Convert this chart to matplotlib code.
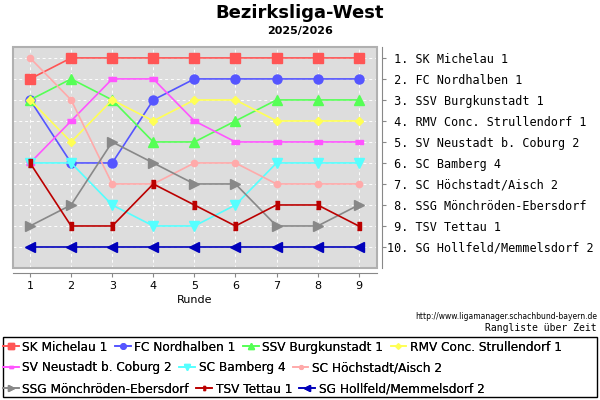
import matplotlib
matplotlib.use("Agg")
import matplotlib.pyplot as plt
from matplotlib.patches import Rectangle
import numpy as np

rounds = [1, 2, 3, 4, 5, 6, 7, 8, 9]

teams = [
    "SK Michelau 1",
    "FC Nordhalben 1",
    "SSV Burgkunstadt 1",
    "RMV Conc. Strullendorf 1",
    "SV Neustadt b. Coburg 2",
    "SC Bamberg 4",
    "SC Höchstadt/Aisch 2",
    "SSG Mönchröden-Ebersdorf",
    "TSV Tettau 1",
    "SG Hollfeld/Memmelsdorf 2",
]

# rank after each round
ranks = {
    "SK Michelau 1":             [2, 1, 1, 1, 1, 1, 1, 1, 1],
    "FC Nordhalben 1":           [3, 6, 6, 3, 2, 2, 2, 2, 2],
    "SSV Burgkunstadt 1":        [3, 2, 3, 5, 5, 4, 3, 3, 3],
    "RMV Conc. Strullendorf 1":  [3, 5, 3, 4, 3, 3, 4, 4, 4],
    "SV Neustadt b. Coburg 2":   [6, 4, 2, 2, 4, 5, 5, 5, 5],
    "SC Bamberg 4":              [6, 6, 8, 9, 9, 8, 6, 6, 6],
    "SC Höchstadt/Aisch 2":      [1, 3, 7, 7, 6, 6, 7, 7, 7],
    "SSG Mönchröden-Ebersdorf":  [9, 8, 5, 6, 7, 7, 9, 9, 8],
    "TSV Tettau 1":              [6, 9, 9, 7, 8, 9, 8, 8, 9],
    "SG Hollfeld/Memmelsdorf 2": [10, 10, 10, 10, 10, 10, 10, 10, 10],
}

# final table for the right hand labels
final_table = teams

hrect = [(-1, -0.55), (1, -0.55), (1, 0.55), (-1, 0.55)]
vrect = [(-0.55, -1), (0.55, -1), (0.55, 1), (-0.55, 1)]

STYLE = {
    "SK Michelau 1":             ("#ff5555", "s", 6.5),
    "FC Nordhalben 1":           ("#5555ff", "o", 6.5),
    "SSV Burgkunstadt 1":        ("#55ff55", "^", 6.5),
    "RMV Conc. Strullendorf 1":  ("#ffff55", "D", 4.5),
    "SV Neustadt b. Coburg 2":   ("#ff55ff", hrect, 6),
    "SC Bamberg 4":              ("#55ffff", "v", 6.5),
    "SC Höchstadt/Aisch 2":      ("#ffaaaa", "o", 4.5),
    "SSG Mönchröden-Ebersdorf":  ("#888888", ">", 6.5),
    "TSV Tettau 1":              ("#bb0000", vrect, 6),
    "SG Hollfeld/Memmelsdorf 2": ("#0000bb", "<", 6.5),
}

fig = plt.figure(figsize=(6, 4), dpi=100)
ax = fig.add_axes([0.022, 0.33, 0.606, 0.5525])
ax.set_facecolor("#dddddd")

handles = []
for team in teams:
    color, marker, ms = STYLE[team]
    h, = ax.plot(rounds, ranks[team], color=color, marker=marker, markersize=ms,
                 markeredgecolor=color, linewidth=1.2, label=team, zorder=3)
    handles.append(h)

ax.set_xlim(0.59, 9.44)
ax.set_ylim(11, 0.48)
ax.set_xticks(rounds)
ax.yaxis.tick_right()
ax.set_yticks(np.arange(1, len(final_table) + 1))
ax.set_yticklabels([f"{i:>2}. {t}" for i, t in enumerate(final_table, 1)])
ax.tick_params(axis="x", labelsize=8, colors="#888888", labelcolor="black", length=3, pad=3)
ax.tick_params(axis="y", colors="#888888", labelcolor="black", length=3, pad=1,
               labelsize=8.5, labelfontfamily="DejaVu Sans Mono")
ax.grid(True, color="white", linestyle=(0, (3, 3)), linewidth=0.7)
ax.set_axisbelow(True)

for s in ["top", "left"]:
    ax.spines[s].set_visible(False)
for s in ["bottom", "right"]:
    ax.spines[s].set_position(("outward", 3.5))
    ax.spines[s].set_color("#888888")
ax.add_patch(Rectangle((0, 0), 1, 1, transform=ax.transAxes, fill=False,
                       edgecolor="#b0b0b0", linewidth=1.5, zorder=5, clip_on=False))
ax.set_xlabel("Runde", fontsize=8, labelpad=3)

fig.text(0.5, 0.968, "Bezirksliga-West", ha="center", va="center",
         fontsize=13, fontweight="bold")
fig.text(0.5, 0.923, "2025/2026", ha="center", va="center",
         fontsize=8, fontweight="bold")

fig.text(0.995, 0.209, "http://www.ligamanager.schachbund-bayern.de",
         ha="right", va="center", fontsize=5.5)
fig.text(0.995, 0.18, "Rangliste über Zeit", ha="right", va="center",
         family="DejaVu Sans Mono", fontsize=7)

# legend box with three rows that flow left to right
fig.patches.append(Rectangle((0.005, 0.007), 0.99, 0.15, transform=fig.transFigure,
                             fill=False, edgecolor="black", linewidth=1))
rows = [handles[0:4], handles[4:7], handles[7:10]]
row_y = [0.132, 0.080, 0.027]
for row, y in zip(rows, row_y):
    leg = fig.legend(handles=row, loc="center left", bbox_to_anchor=(0.005, y),
                     ncol=len(row), frameon=False, fontsize=8.7, handlelength=1.3,
                     handletextpad=0.3, columnspacing=0.6, borderpad=0,
                     borderaxespad=0, markerscale=0.6)
    fig.add_artist(leg)

fig.savefig("out.png", dpi=100)
